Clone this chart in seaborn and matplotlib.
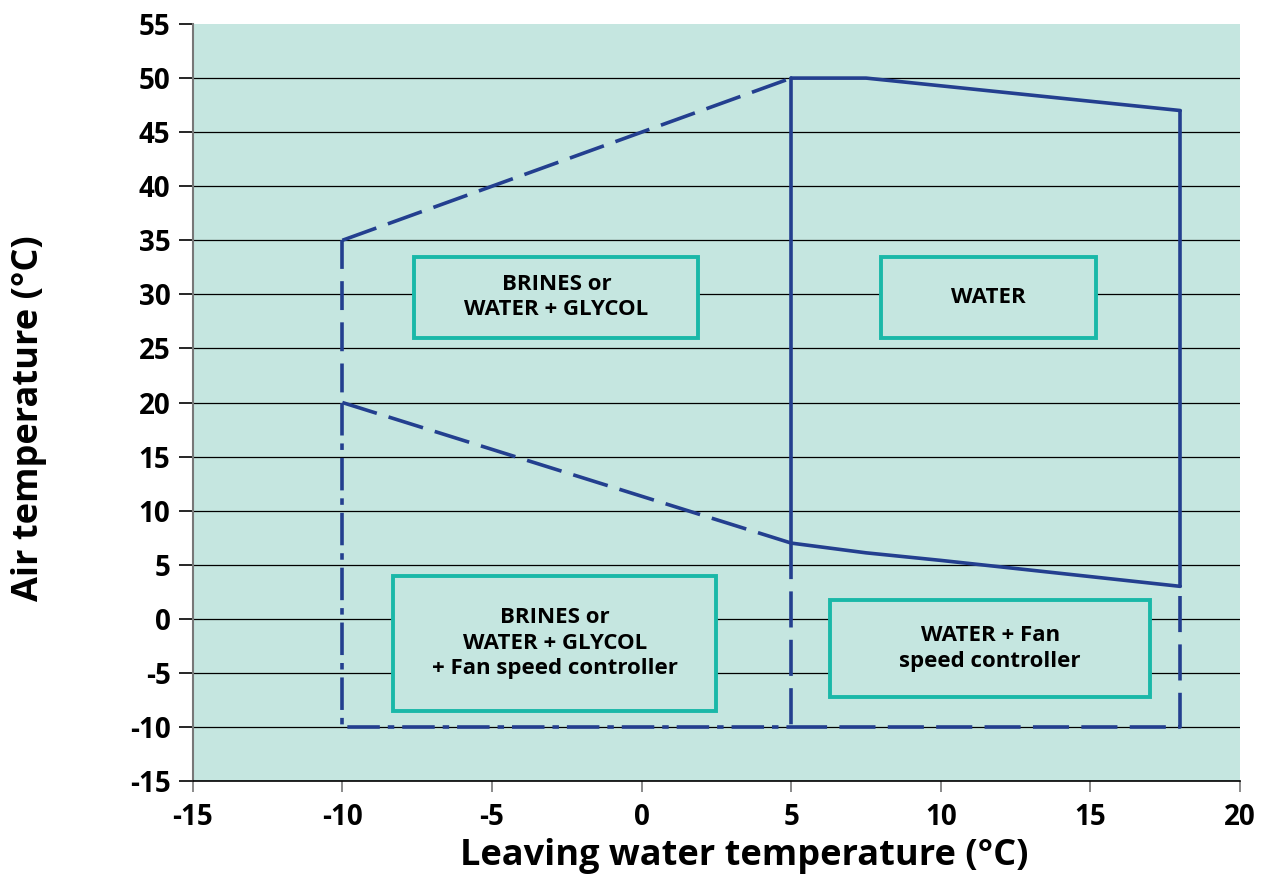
import matplotlib
matplotlib.use("Agg")
import matplotlib.pyplot as plt
import seaborn as sns
from matplotlib.patches import Rectangle

# envelope outline (leaving water temp, air temp)
top_dashed_x = [-10, 5]
top_dashed_y = [35, 50]
top_solid_x = [5, 7.5, 18]
top_solid_y = [50, 50, 47]
low_dashed_x = [-10, 5]
low_dashed_y = [20, 7]
low_solid_x = [5, 7.5, 10, 18]
low_solid_y = [7, 6.1, 5.4, 3]
water_left_x = [5, 5]
water_left_y = [50, 7]
water_right_x = [18, 18]
water_right_y = [47, 3]
left_upper_x = [-10, -10]
left_upper_y = [35, 20]
left_lower_x = [-10, -10, 5]
left_lower_y = [20, -10, -10]
mid_lower_x = [5, 5]
mid_lower_y = [7, -10]
right_lower_x = [5, 18, 18]
right_lower_y = [-10, -10, 3]

# zone labels: text, (x0, x1, y0, y1) in data units
zone_texts = ["BRINES or\nWATER + GLYCOL", "WATER",
              "BRINES or\nWATER + GLYCOL\n+ Fan speed controller",
              "WATER + Fan\nspeed controller"]
zone_boxes = [(-7.6, 1.9, 26.0, 33.5), (8.0, 15.2, 26.0, 33.5),
              (-8.3, 2.5, -8.5, 4.0), (6.3, 17.0, -7.2, 1.7)]

x_ticks = [-15, -10, -5, 0, 5, 10, 15, 20]
y_ticks = list(range(-15, 60, 5))

sns.set_theme(style="ticks")
plt.rcParams["font.family"] = ["Open Sans", "DejaVu Sans"]
plt.rcParams["axes.unicode_minus"] = False
plt.rcParams["text.color"] = "black"
plt.rcParams["axes.labelcolor"] = "black"

bg = "#c5e6e0"
line_col = "#233f8f"
box_col = "#1ab8a8"
lw = 2.6

fig = plt.figure(figsize=(12.68, 8.8), dpi=100)
ax = fig.add_axes([0.152, 0.1125, 0.826, 0.8602])
ax.set_facecolor(bg)

dashed = (0, (10, 3.4))
dashdot = (0, (9, 2.2, 1.8, 2.2))

segments = [
    (top_dashed_x, top_dashed_y, dashed),
    (top_solid_x, top_solid_y, "-"),
    (low_dashed_x, low_dashed_y, dashed),
    (low_solid_x, low_solid_y, "-"),
    (water_left_x, water_left_y, "-"),
    (water_right_x, water_right_y, "-"),
    (left_upper_x, left_upper_y, (0, (8, 3.4))),
    (left_lower_x, left_lower_y, dashdot),
    (mid_lower_x, mid_lower_y, dashed),
    (right_lower_x, right_lower_y, dashed),
]
for xs, ys, ls in segments:
    sns.lineplot(x=xs, y=ys, ax=ax, color=line_col, lw=lw, linestyle=ls,
                 sort=False, estimator=None, zorder=3)

for txt, (x0, x1, y0, y1) in zip(zone_texts, zone_boxes):
    ax.add_patch(Rectangle((x0, y0), x1 - x0, y1 - y0, facecolor=bg,
                           edgecolor=box_col, lw=2.8, zorder=4))
    ax.text((x0 + x1) / 2, (y0 + y1) / 2, txt, ha="center", va="center",
            fontsize=16, fontweight="bold", linespacing=1.3, zorder=5,
            color="black")

ax.set_xlim(-15, 20)
ax.set_ylim(-15, 55)
ax.set_xticks(x_ticks)
ax.set_yticks(y_ticks)
ax.tick_params(labelsize=20, width=1.2, length=10, colors="black", pad=6)
ax.tick_params(axis="x", color="#777777", length=8, pad=8)
for lab in ax.get_xticklabels() + ax.get_yticklabels():
    lab.set_fontweight("bold")

ax.yaxis.grid(True, color="black", lw=0.9)
ax.get_ygridlines()[-1].set_visible(False)
ax.set_axisbelow(True)

for s in ["top", "right"]:
    ax.spines[s].set_visible(False)
ax.spines["left"].set_color("#777777")
ax.spines["left"].set_linewidth(1.5)
ax.spines["bottom"].set_color("black")
ax.spines["bottom"].set_linewidth(1.2)

ax.set_xlabel("Leaving water temperature (°C)", fontsize=26,
              fontweight="bold")
ax.set_ylabel("Air temperature (°C)", fontsize=26, fontweight="bold")
ax.xaxis.set_label_coords(0.527, -0.075)
ax.yaxis.set_label_coords(-0.139, 0.48)

fig.savefig("out.png", dpi=100)
